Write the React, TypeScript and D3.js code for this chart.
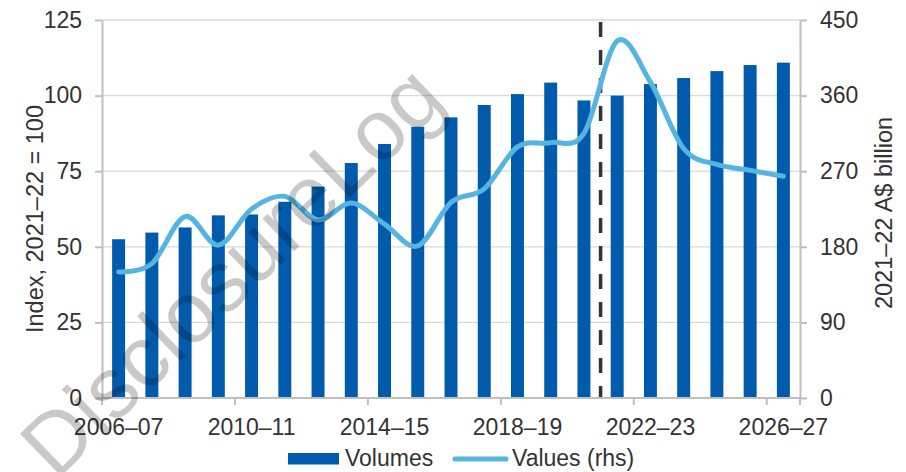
import { useEffect, useRef } from "react";
import * as d3 from "d3";

const categories = [
  "2006–07", "2007–08", "2008–09", "2009–10", "2010–11", "2011–12", "2012–13",
  "2013–14", "2014–15", "2015–16", "2016–17", "2017–18", "2018–19", "2019–20",
  "2020–21", "2021–22", "2022–23", "2023–24", "2024–25", "2025–26", "2026–27",
];
const volumes = [
  52.5, 54.7, 56.4, 60.4, 60.7, 64.9, 69.9, 77.7, 84.0, 89.7, 92.8,
  96.9, 100.5, 104.3, 98.4, 100.0, 103.8, 105.8, 108.1, 110.1, 110.9,
];
const values = [
  150, 160, 216, 182, 225, 240, 212, 232, 207, 181, 233,
  249, 299, 304, 315, 425, 376, 297, 278, 271, 264,
];
const leftTicks = [0, 25, 50, 75, 100, 125];
const rightTicks = [0, 90, 180, 270, 360, 450];
const labelEvery = 4;
const dividerAfter = "2020–21";

const FONT = "'Liberation Sans', Arial, sans-serif";
const BAR = "#005BAC";
const LINE = "#56B4E0";
const TEXT = "#333333";
const AXIS = "#BFBFBF";
const GRID = "#D9D9D9";

export default function App() {
  const svgRef = useRef<SVGSVGElement>(null);

  useEffect(() => {
    if (!svgRef.current) return;
    const width = 906;
    const height = 472;
    const margin = { top: 20, right: 106, bottom: 74, left: 102 };
    const innerWidth = width - margin.left - margin.right;
    const innerHeight = height - margin.top - margin.bottom;

    const svg = d3.select(svgRef.current);
    svg.selectAll("*").remove();
    svg.attr("width", width).attr("height", height).attr("font-family", FONT);

    const g = svg.append("g").attr("transform", `translate(${margin.left},${margin.top})`);

    // scales
    const x = d3.scaleBand<string>().domain(categories).range([0, innerWidth]).paddingInner(0).paddingOuter(0);
    const yL = d3.scaleLinear().domain([0, 125]).range([innerHeight, 0]);
    const yR = d3.scaleLinear().domain([0, 450]).range([innerHeight, 0]);

    // grid
    g.append("g")
      .selectAll("line")
      .data(leftTicks.filter((t) => t > 0))
      .enter()
      .append("line")
      .attr("x1", 0)
      .attr("x2", innerWidth)
      .attr("y1", (d) => yL(d))
      .attr("y2", (d) => yL(d))
      .attr("stroke", GRID)
      .attr("stroke-width", 1.3);

    // bars
    const barW = x.bandwidth() * 0.39;
    g.append("g")
      .selectAll("rect")
      .data(categories.map((c, i) => ({ c, v: volumes[i] })))
      .enter()
      .append("rect")
      .attr("x", (d) => (x(d.c) as number) + x.bandwidth() / 2 - barW / 2)
      .attr("y", (d) => yL(d.v))
      .attr("width", barW)
      .attr("height", (d) => innerHeight - yL(d.v))
      .attr("fill", BAR);

    // divider (forecast start)
    const dx = (x(dividerAfter) as number) + x.bandwidth();
    g.append("line")
      .attr("x1", dx)
      .attr("x2", dx)
      .attr("y1", 2)
      .attr("y2", innerHeight)
      .attr("stroke", "#333333")
      .attr("stroke-width", 3.5)
      .attr("stroke-dasharray", "15 13");

    // values line (rhs)
    const line = d3
      .line<{ c: string; v: number }>()
      .x((d) => (x(d.c) as number) + x.bandwidth() / 2)
      .y((d) => yR(d.v))
      .curve(d3.curveCardinal.tension(0));
    g.append("path")
      .datum(categories.map((c, i) => ({ c, v: values[i] })))
      .attr("fill", "none")
      .attr("stroke", LINE)
      .attr("stroke-width", 5)
      .attr("stroke-linecap", "round")
      .attr("d", line);

    // left axis
    const left = g
      .append("g")
      .call(d3.axisLeft(yL).tickValues(leftTicks).tickSize(7).tickPadding(13).tickSizeOuter(0));
    left.select(".domain").attr("stroke", AXIS).attr("stroke-width", 2);
    left.selectAll(".tick line").attr("stroke", AXIS).attr("stroke-width", 2);
    left.selectAll(".tick text").attr("fill", TEXT).attr("font-size", 23).attr("font-family", FONT);

    // right axis
    const right = g
      .append("g")
      .attr("transform", `translate(${innerWidth},0)`)
      .call(d3.axisRight(yR).tickValues(rightTicks).tickSize(7).tickPadding(13).tickSizeOuter(0));
    right.select(".domain").attr("stroke", AXIS).attr("stroke-width", 2);
    right.selectAll(".tick line").attr("stroke", AXIS).attr("stroke-width", 2);
    right.selectAll(".tick text").attr("fill", TEXT).attr("font-size", 23).attr("font-family", FONT);

    // bottom axis: labels centred on categories, ticks on group boundaries
    const bottom = g.append("g").attr("transform", `translate(0,${innerHeight})`);
    bottom
      .append("line")
      .attr("x1", 0)
      .attr("x2", innerWidth)
      .attr("stroke", AXIS)
      .attr("stroke-width", 2);
    const boundaries = categories.filter((_, i) => i % labelEvery === 0).map((c) => x(c) as number);
    boundaries.push(innerWidth);
    bottom
      .selectAll(".btick")
      .data(boundaries)
      .enter()
      .append("line")
      .attr("class", "btick")
      .attr("x1", (d) => d)
      .attr("x2", (d) => d)
      .attr("y1", 0)
      .attr("y2", 7)
      .attr("stroke", AXIS)
      .attr("stroke-width", 2);
    bottom
      .selectAll(".blabel")
      .data(categories.filter((_, i) => i % labelEvery === 0))
      .enter()
      .append("text")
      .attr("class", "blabel")
      .attr("x", (d) => (x(d) as number) + x.bandwidth() / 2)
      .attr("y", 37)
      .attr("text-anchor", "middle")
      .attr("fill", TEXT)
      .attr("font-size", 23)
      .text((d) => d);

    // axis titles
    svg
      .append("text")
      .attr("transform", `translate(43,219) rotate(-90)`)
      .attr("text-anchor", "middle")
      .attr("fill", TEXT)
      .attr("font-size", 23.5)
      .text("Index, 2021–22 = 100");
    svg
      .append("text")
      .attr("transform", `translate(892,213) rotate(-90)`)
      .attr("text-anchor", "middle")
      .attr("fill", TEXT)
      .attr("font-size", 23.5)
      .text("2021–22 A$ billion");

    // legend
    const lg = svg.append("g");
    lg.append("rect").attr("x", 288).attr("y", 453).attr("width", 51).attr("height", 11.5).attr("fill", BAR);
    lg.append("text").attr("x", 345).attr("y", 466).attr("fill", TEXT).attr("font-size", 23).text("Volumes");
    lg.append("line")
      .attr("x1", 455)
      .attr("x2", 506)
      .attr("y1", 459)
      .attr("y2", 459)
      .attr("stroke", LINE)
      .attr("stroke-width", 5)
      .attr("stroke-linecap", "round");
    lg.append("text").attr("x", 512).attr("y", 466).attr("fill", TEXT).attr("font-size", 23).text("Values (rhs)");

    // watermark
    svg
      .append("text")
      .attr("transform", "translate(252,292) rotate(-44)")
      .attr("text-anchor", "middle")
      .attr("fill", "#000000")
      .attr("fill-opacity", 0.21)
      .attr("font-size", 86)
      .text("DisclosureLog");
  }, []);

  return (
    <svg
      ref={svgRef}
      width={906}
      height={472}
      style={{ position: "absolute", left: 0, top: 0, background: "#ffffff" }}
    />
  );
}
